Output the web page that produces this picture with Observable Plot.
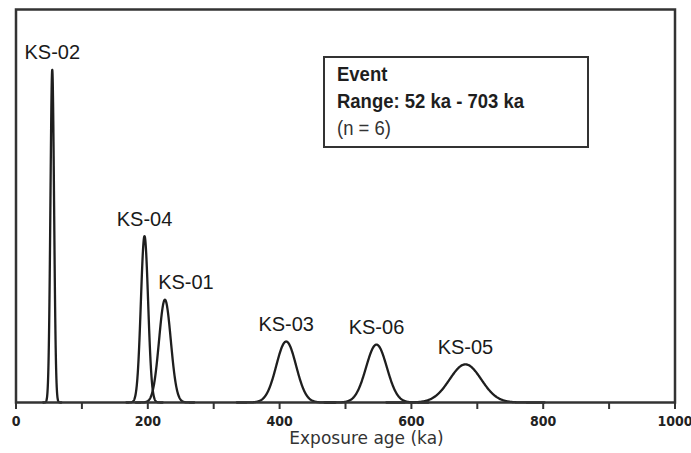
<!DOCTYPE html>
<html>
<head>
<meta charset="utf-8">
<script src="https://cdn.jsdelivr.net/npm/d3@7"></script>
<script src="https://cdn.jsdelivr.net/npm/@observablehq/plot@0.6"></script>
<style>
  html, body { margin: 0; padding: 0; background: #fff; }
  #wrap { position: relative; width: 691px; height: 453px; }
  #wrap svg { position: absolute; left: 0; top: 0; }
  #box {
    position: absolute; left: 323px; top: 56px; width: 266px; height: 92px;
    box-sizing: border-box; border: 2.5px solid #333; background: #fff;
    padding: 1.7px 0 0 12px;
    font-family: "Liberation Sans", Arial, sans-serif; font-size: 21px; line-height: 27px; color: #1e1e1e;
  }
  #box div { transform: scaleX(0.88); transform-origin: 0 50%; white-space: nowrap; }
  #box .b { font-weight: bold; }
  #box .r { color: #333; }
</style>
</head>
<body>
<div id="wrap"></div>
<script>
// ---- data ----
const samples = ["KS-02", "KS-04", "KS-01", "KS-03", "KS-06", "KS-05"];
const ages    = [55, 195, 226, 410, 547, 682];      // ka (peak position)
const errors  = [2.75, 5.5, 8.9, 15, 15.8, 24];     // ka (1 sigma)
const xTicks  = [0, 100, 200, 300, 400, 500, 600, 700, 800, 900, 1000];
const xLabelTicks = [0, 200, 400, 600, 800, 1000];
const xTitle = "Exposure age (ka)";
const boxTitle = "Event";
const boxRange = "Range: 52 ka - 703 ka";
const boxN = "(n = 6)";

// ---- probability density curves (normal distribution per sample) ----
const SQRT2PI = Math.sqrt(2 * Math.PI);
const curves = [];
samples.forEach((s, i) => {
  const mu = ages[i], sd = errors[i];
  const n = 400;
  for (let k = 0; k <= n; k++) {
    const x = mu - 5 * sd + (10 * sd) * k / n;
    const z = (x - mu) / sd;
    curves.push({sample: s, x, y: Math.exp(-0.5 * z * z) / (sd * SQRT2PI)});
  }
});
const peaks = samples.map((s, i) => ({sample: s, x: ages[i], y: 1 / (errors[i] * SQRT2PI)}));
const nudged = ["KS-01"];   // label sits right of its peak

const labelFont = '"Liberation Sans", Arial, sans-serif';
const tickFont = '"DejaVu Sans Condensed", "DejaVu Sans", sans-serif';

const chart = Plot.plot({
  width: 691,
  height: 453,
  marginLeft: 15.5,
  marginRight: 16.5,
  marginTop: 9,
  marginBottom: 51,
  style: {background: "transparent", overflow: "visible"},
  x: {domain: [0, 1000]},
  y: {domain: [0, 0.1714], axis: null},
  marks: [
    Plot.line(curves, {x: "x", y: "y", z: "sample", stroke: "#1e1e1e", strokeWidth: 2.3, curve: "linear"}),
    Plot.frame({stroke: "#333", strokeWidth: 2.5}),
    Plot.axisX(xTicks, {
      anchor: "bottom", tickSize: 7, tickPadding: 6.5, label: null,
      tickFormat: d => xLabelTicks.includes(d) ? String(d) : "",
      stroke: "#333", strokeWidth: 2, fill: "#222",
      fontSize: 14, fontWeight: "bold", fontFamily: tickFont
    }),
    Plot.text([xTitle], {
      frameAnchor: "bottom", dx: 21, dy: 41, text: d => d,
      fontSize: 17, fontFamily: '"DejaVu Sans", sans-serif', fill: "#333"
    }),
    Plot.text(peaks.filter(d => !nudged.includes(d.sample)), {
      x: "x", y: "y", text: "sample", dy: -17,
      fontSize: 20, fontFamily: labelFont, fill: "#1a1a1a"
    }),
    Plot.text(peaks.filter(d => nudged.includes(d.sample)), {
      x: "x", y: "y", text: "sample", dy: -17, dx: 21,
      fontSize: 20, fontFamily: labelFont, fill: "#1a1a1a"
    })
  ]
});

const wrap = document.getElementById("wrap");
wrap.appendChild(chart);

const box = document.createElement("div");
box.id = "box";
[[boxTitle, "b"], [boxRange, "b"], [boxN, "r"]].forEach(([t, c]) => {
  const line = document.createElement("div");
  line.className = c;
  line.textContent = t;
  box.appendChild(line);
});
wrap.appendChild(box);
</script>
</body>
</html>
